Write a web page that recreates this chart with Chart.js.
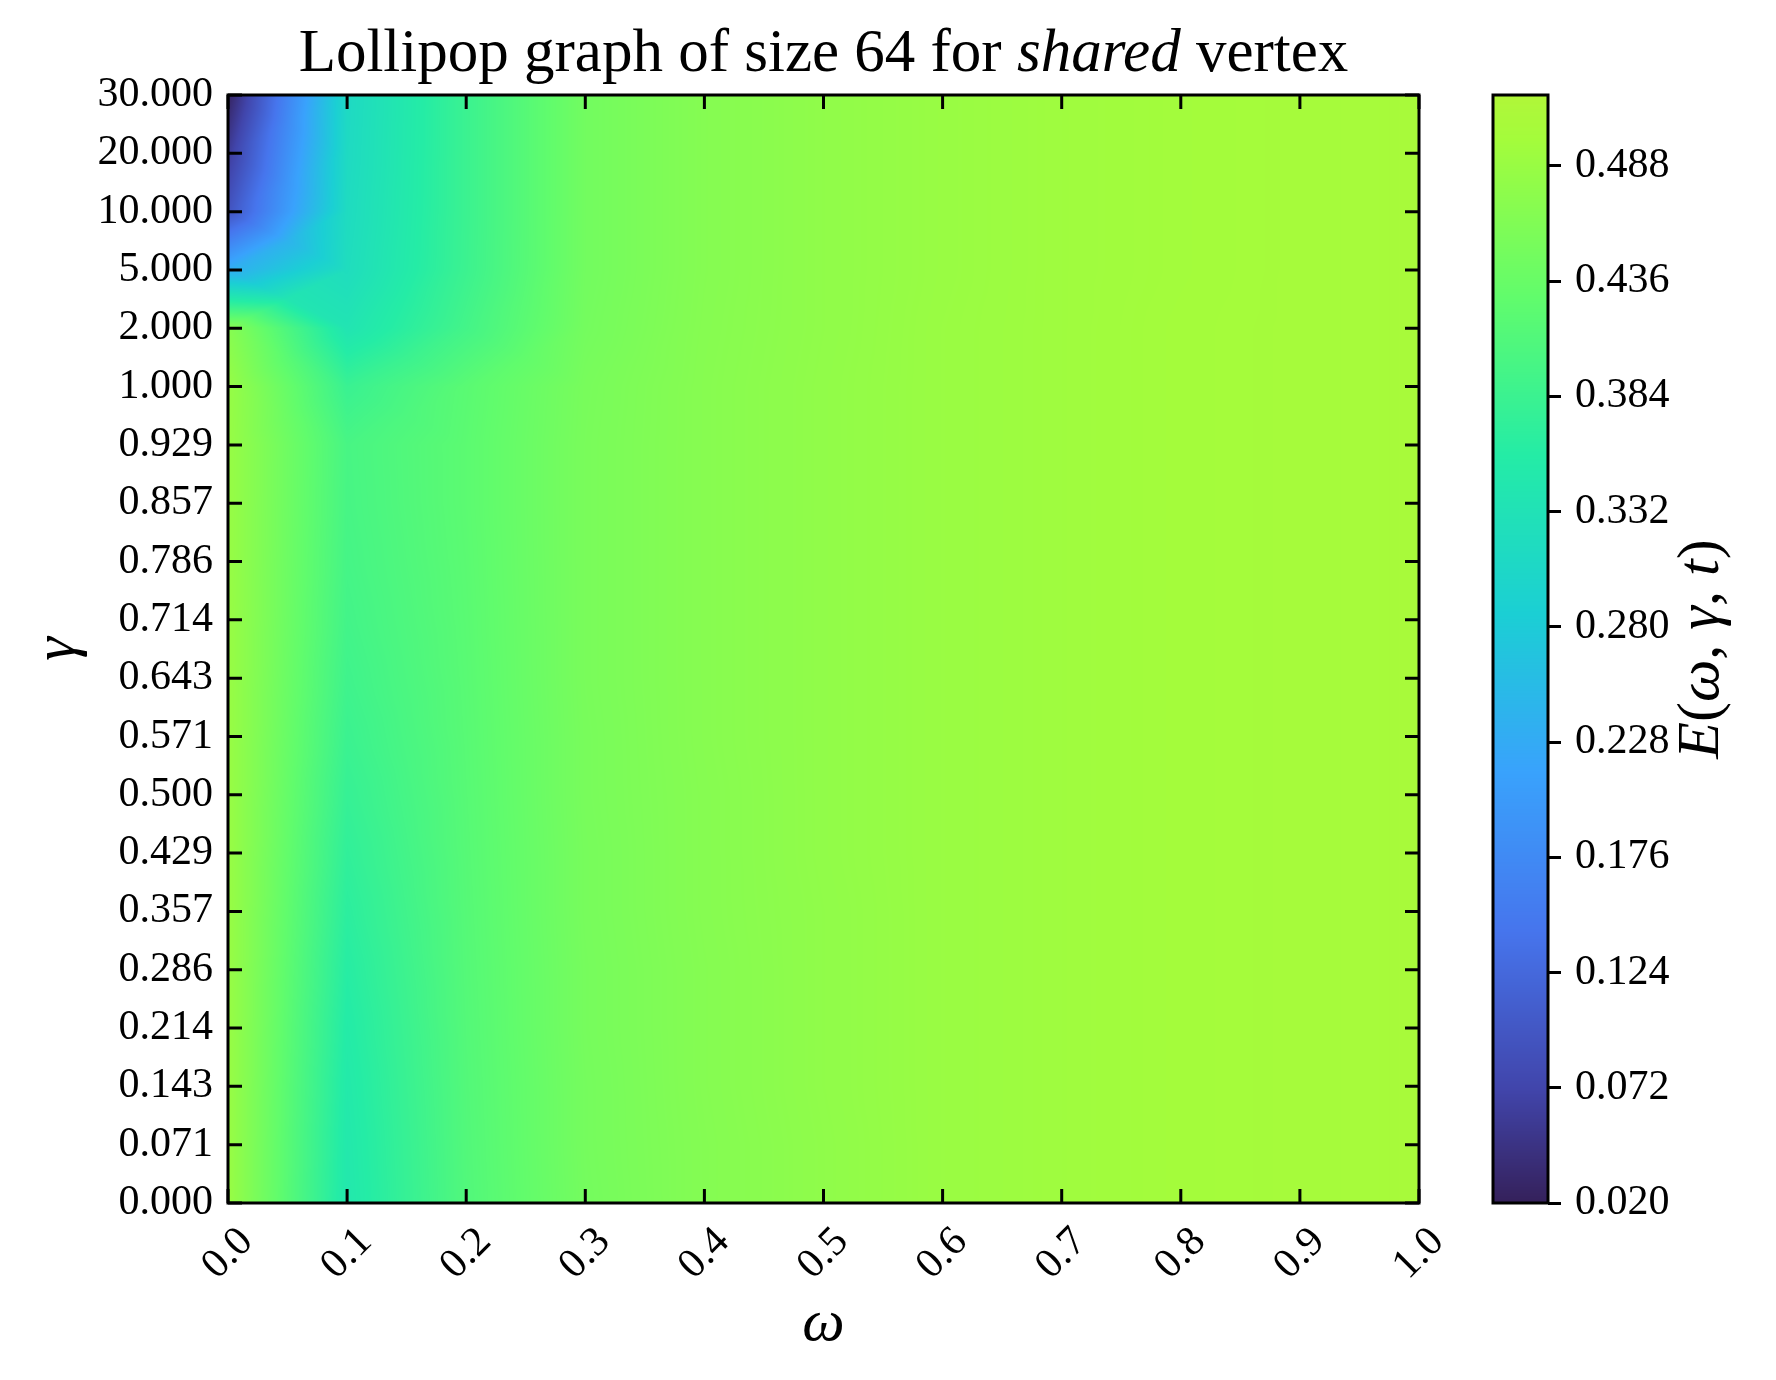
<!DOCTYPE html>
<html>
<head>
<meta charset="utf-8">
<script src="https://cdn.jsdelivr.net/npm/chart.js@4.4.0/dist/chart.umd.min.js"></script>
<style>
  html, body { margin: 0; padding: 0; background: #fff; }
  #wrap { position: relative; width: 1776px; height: 1380px; }
  #heatmap { position: absolute; left: 0; top: 0; }
  #colorbar { position: absolute; left: 1440px; top: 0; }
</style>
</head>
<body>
<div id="wrap">
  <canvas id="heatmap" width="1776" height="1380"></canvas>
  <canvas id="colorbar" width="336" height="1380"></canvas>
</div>
<script>
const omegaValues = [0.0, 0.1, 0.2, 0.3, 0.4, 0.5, 0.6, 0.7, 0.8, 0.9, 1.0];
const gammaLabels = ['0.000', '0.071', '0.143', '0.214', '0.286', '0.357', '0.429', '0.500', '0.571', '0.643',
  '0.714', '0.786', '0.857', '0.929', '1.000', '2.000', '5.000', '10.000', '20.000', '30.000'];

// E(w, g, t) for each omega, listed from gamma = 0.000 up to gamma = 30.000
const w00 = [0.488, 0.488, 0.488, 0.488, 0.488, 0.488, 0.488, 0.488, 0.488, 0.488, 0.488, 0.487, 0.487, 0.487, 0.486, 0.470, 0.232, 0.092, 0.058, 0.024];
const w01 = [0.346, 0.348, 0.351, 0.355, 0.360, 0.366, 0.372, 0.378, 0.384, 0.389, 0.393, 0.396, 0.398, 0.399, 0.382, 0.338, 0.320, 0.316, 0.313, 0.311];
const w02 = [0.410, 0.411, 0.412, 0.413, 0.414, 0.415, 0.416, 0.417, 0.418, 0.419, 0.420, 0.421, 0.422, 0.422, 0.420, 0.394, 0.385, 0.384, 0.384, 0.384];
const w03 = [0.449, 0.450, 0.450, 0.451, 0.451, 0.452, 0.452, 0.453, 0.453, 0.454, 0.454, 0.454, 0.454, 0.454, 0.453, 0.449, 0.447, 0.447, 0.447, 0.447];
const w04 = [0.466, 0.466, 0.467, 0.467, 0.467, 0.468, 0.468, 0.468, 0.469, 0.469, 0.469, 0.469, 0.469, 0.469, 0.469, 0.468, 0.467, 0.467, 0.467, 0.467];
const w05 = [0.478, 0.478, 0.479, 0.479, 0.479, 0.479, 0.480, 0.480, 0.480, 0.480, 0.480, 0.480, 0.480, 0.480, 0.480, 0.479, 0.479, 0.479, 0.479, 0.479];
const w06 = [0.489, 0.489, 0.489, 0.489, 0.489, 0.489, 0.489, 0.489, 0.489, 0.489, 0.489, 0.489, 0.489, 0.489, 0.489, 0.489, 0.488, 0.488, 0.488, 0.488];
const w07 = [0.495, 0.495, 0.495, 0.495, 0.495, 0.495, 0.495, 0.495, 0.495, 0.495, 0.495, 0.495, 0.495, 0.495, 0.495, 0.495, 0.495, 0.495, 0.495, 0.495];
const w08 = [0.500, 0.500, 0.500, 0.500, 0.500, 0.500, 0.500, 0.500, 0.500, 0.500, 0.500, 0.500, 0.500, 0.500, 0.500, 0.500, 0.499, 0.499, 0.499, 0.499];
const w09 = [0.503, 0.503, 0.503, 0.503, 0.503, 0.503, 0.503, 0.503, 0.503, 0.503, 0.503, 0.503, 0.503, 0.503, 0.503, 0.503, 0.503, 0.503, 0.503, 0.503];
const w10 = [0.506, 0.506, 0.506, 0.506, 0.506, 0.506, 0.506, 0.506, 0.506, 0.506, 0.506, 0.506, 0.506, 0.506, 0.506, 0.506, 0.506, 0.506, 0.506, 0.506];
const columns = [w00, w01, w02, w03, w04, w05, w06, w07, w08, w09, w10];

const cbTicks = [0.020, 0.072, 0.124, 0.176, 0.228, 0.280, 0.332, 0.384, 0.436, 0.488];
const vMin = 0.02;
const vMax = 0.52;

// turbo colormap, value 0..1
const turboStops = ['#30123b', '#4145ab', '#4675ed', '#39a2fc', '#1bcfd4', '#24eca6', '#61fc6c', '#a4fc3b',
  '#d1e834', '#f3c63a', '#fe9b2d', '#f36315', '#d93806', '#b11901', '#7a0402'];
const stopRgb = turboStops.map(h => [1, 3, 5].map(k => parseInt(h.substr(k, 2), 16)));

function cmap(v) {
  const f = Math.min(1, Math.max(0, v)) * (stopRgb.length - 1);
  const k = Math.min(stopRgb.length - 2, Math.floor(f));
  const s = f - k;
  return [0, 1, 2].map(c => Math.round(stopRgb[k][c] + (stopRgb[k + 1][c] - stopRgb[k][c]) * s));
}
const LUT_N = 4096;
const lut = [];
for (let k = 0; k <= LUT_N; k++) lut.push(cmap(k / LUT_N));

const FONT = "'Liberation Serif', 'Times New Roman', serif";
Chart.defaults.font.family = FONT;
Chart.defaults.color = '#000';

// gouraud-like shading: every quad split in 4 triangles around its centre
function valueAt(i, u, j, t) {
  const a = columns[i][j], b = columns[i + 1][j];
  const d = columns[i + 1][j + 1], e = columns[i][j + 1];
  const c = (a + b + d + e) / 4;
  if (t <= u && t <= 1 - u) return a * (1 - u - t) + b * (u - t) + c * 2 * t;
  if (u >= t && u >= 1 - t) return b * (u - t) + d * (u + t - 1) + c * 2 * (1 - u);
  if (t >= u && t >= 1 - u) return e * (t - u) + d * (u + t - 1) + c * 2 * (1 - t);
  return a * (1 - t - u) + e * (t - u) + c * 2 * u;
}

const heatmapPlugin = {
  id: 'heatmap',
  beforeDatasetsDraw(chart) {
    const { ctx, chartArea, scales } = chart;
    const xs = scales.x, ys = scales.y;
    const x0 = Math.round(chartArea.left), y0 = Math.round(chartArea.top);
    const w = Math.round(chartArea.right) - x0, h = Math.round(chartArea.bottom) - y0;

    const colI = [], colU = [];
    for (let px = 0; px < w; px++) {
      const xv = xs.getValueForPixel(x0 + px + 0.5);
      let i = 0;
      while (i < omegaValues.length - 2 && xv > omegaValues[i + 1]) i++;
      colI.push(i);
      colU.push(Math.min(1, Math.max(0, (xv - omegaValues[i]) / (omegaValues[i + 1] - omegaValues[i]))));
    }

    const off = document.createElement('canvas');
    off.width = w; off.height = h;
    const octx = off.getContext('2d');
    const img = octx.createImageData(w, h);
    const nRows = gammaLabels.length;

    for (let py = 0; py < h; py++) {
      const yv = ys.getValueForPixel(y0 + py + 0.5);
      const j = Math.min(nRows - 2, Math.max(0, Math.floor(yv)));
      const t = Math.min(1, Math.max(0, yv - j));
      for (let px = 0; px < w; px++) {
        const v = valueAt(colI[px], colU[px], j, t);
        const rgb = lut[Math.round(Math.min(1, Math.max(0, v)) * LUT_N)];
        const idx = (py * w + px) * 4;
        img.data[idx] = rgb[0];
        img.data[idx + 1] = rgb[1];
        img.data[idx + 2] = rgb[2];
        img.data[idx + 3] = 255;
      }
    }
    octx.putImageData(img, 0, 0);
    ctx.drawImage(off, x0, y0);
  }
};

function drawParts(ctx, parts, size) {
  let total = 0;
  const widths = parts.map(p => {
    ctx.font = (p[1] ? 'italic ' : '') + size + 'px ' + FONT;
    const wd = ctx.measureText(p[0]).width;
    total += wd;
    return wd;
  });
  let x = -total / 2;
  parts.forEach((p, k) => {
    ctx.font = (p[1] ? 'italic ' : '') + size + 'px ' + FONT;
    ctx.fillText(p[0], x, 0);
    x += widths[k];
  });
}

const framePlugin = {
  id: 'frame',
  afterDraw(chart) {
    const { ctx, chartArea, scales } = chart;
    const { left, right, top, bottom } = chartArea;
    const xs = scales.x, ys = scales.y;
    ctx.save();
    ctx.strokeStyle = '#000';
    ctx.lineWidth = 3;
    ctx.beginPath();
    omegaValues.forEach(v => {
      const p = xs.getPixelForValue(v);
      ctx.moveTo(p, bottom); ctx.lineTo(p, bottom - 14);
      ctx.moveTo(p, top); ctx.lineTo(p, top + 14);
    });
    gammaLabels.forEach((_, i) => {
      const p = ys.getPixelForValue(i);
      ctx.moveTo(left, p); ctx.lineTo(left + 14, p);
      ctx.moveTo(right, p); ctx.lineTo(right - 14, p);
    });
    ctx.stroke();
    ctx.strokeRect(left, top, right - left, bottom - top);

    // rotated omega tick labels, centred under each tick
    ctx.fillStyle = '#000';
    ctx.font = '42px ' + FONT;
    ctx.textAlign = 'center';
    ctx.textBaseline = 'middle';
    omegaValues.forEach(v => {
      ctx.save();
      ctx.translate(xs.getPixelForValue(v), bottom + 51);
      ctx.rotate(-Math.PI / 4);
      ctx.fillText(v.toFixed(1), 0, 0);
      ctx.restore();
    });

    // title with italic word
    ctx.textAlign = 'left';
    ctx.textBaseline = 'alphabetic';
    ctx.save();
    ctx.translate((left + right) / 2, 71);
    drawParts(ctx, [['Lollipop graph of size 64 for ', false], ['shared', true], [' vertex', false]], 61);
    ctx.restore();
    ctx.restore();
  }
};

new Chart(document.getElementById('heatmap'), {
  type: 'scatter',
  data: { datasets: [] },
  options: {
    responsive: false,
    animation: false,
    layout: { padding: { left: 0, right: 357, top: 95, bottom: 0 } },
    plugins: { legend: { display: false }, tooltip: { enabled: false } },
    scales: {
      x: {
        type: 'linear',
        min: 0,
        max: 1,
        afterBuildTicks: s => { s.ticks = omegaValues.map(v => ({ value: v })); },
        afterFit: s => { s.height = 177; },
        grid: { display: false, drawTicks: false },
        border: { display: false },
        ticks: { display: false },
        title: { display: true, text: 'ω', color: '#000', font: { size: 60, style: 'italic' }, padding: { top: 0, bottom: 20 } }
      },
      y: {
        type: 'linear',
        min: 0,
        max: gammaLabels.length - 1,
        afterBuildTicks: s => { s.ticks = gammaLabels.map((_, i) => ({ value: i })); },
        afterFit: s => { s.width = 228; },
        grid: { display: false, drawTicks: false },
        border: { display: false },
        ticks: { autoSkip: false, color: '#000', font: { size: 42 }, padding: 15, callback: (v, i) => gammaLabels[i] },
        title: { display: true, text: 'γ', color: '#000', font: { size: 60, style: 'italic' }, padding: { top: 22, bottom: 0 } }
      }
    }
  },
  plugins: [heatmapPlugin, framePlugin]
});

const colorbarPlugin = {
  id: 'colorbar',
  beforeDatasetsDraw(chart) {
    const { ctx, chartArea, scales } = chart;
    const ys = scales.y;
    for (let py = Math.round(chartArea.top); py < Math.round(chartArea.bottom); py++) {
      const rgb = cmap(ys.getValueForPixel(py + 0.5));
      ctx.fillStyle = 'rgb(' + rgb.join(',') + ')';
      ctx.fillRect(chartArea.left, py, chartArea.right - chartArea.left, 1);
    }
  },
  afterDraw(chart) {
    const { ctx, chartArea } = chart;
    ctx.save();
    ctx.strokeStyle = '#000';
    ctx.lineWidth = 3;
    ctx.strokeRect(chartArea.left, chartArea.top, chartArea.right - chartArea.left, chartArea.bottom - chartArea.top);
    ctx.fillStyle = '#000';
    ctx.textBaseline = 'middle';
    ctx.translate(262, (chartArea.top + chartArea.bottom) / 2);
    ctx.rotate(-Math.PI / 2);
    drawParts(ctx, [['E', true], ['(', false], ['ω', true], [', ', false], ['γ', true], [', ', false], ['t', true], [')', false]], 60);
    ctx.restore();
  }
};

new Chart(document.getElementById('colorbar'), {
  type: 'scatter',
  data: { datasets: [] },
  options: {
    responsive: false,
    animation: false,
    layout: { padding: { left: 53, right: 0, top: 95, bottom: 177 } },
    plugins: { legend: { display: false }, tooltip: { enabled: false } },
    scales: {
      x: { display: false, min: 0, max: 1 },
      y: {
        type: 'linear',
        position: 'right',
        min: vMin,
        max: vMax,
        afterBuildTicks: s => { s.ticks = cbTicks.map(v => ({ value: v })); },
        afterFit: s => { s.width = 228; },
        grid: { display: true, drawOnChartArea: false, drawTicks: true, tickLength: 13, lineWidth: 3, color: '#000' },
        border: { display: false },
        ticks: { autoSkip: false, color: '#000', font: { size: 42 }, padding: 14, callback: v => v.toFixed(3) }
      }
    }
  },
  plugins: [colorbarPlugin]
});
</script>
</body>
</html>
